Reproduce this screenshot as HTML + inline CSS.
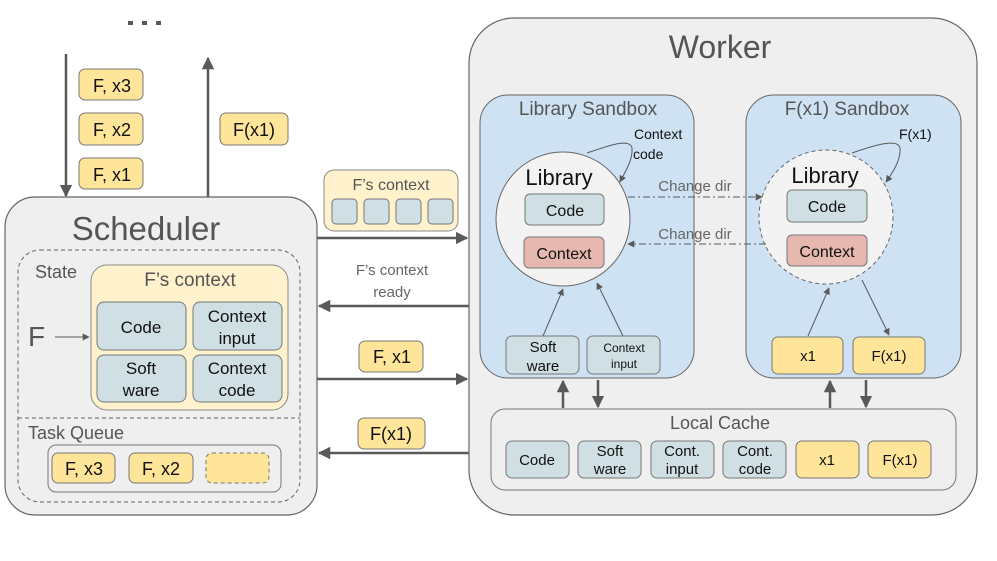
<!DOCTYPE html><html><head><style>body{margin:0;background:#fff}svg{display:block;font-family:"Liberation Sans",sans-serif}</style></head><body>
<svg width="997" height="561" viewBox="0 0 997 561" xmlns="http://www.w3.org/2000/svg">
<defs>
<marker id="a" viewBox="0 0 10 10" refX="9" refY="5" markerWidth="5" markerHeight="5" orient="auto-start-reverse"><path d="M0,0L10,5L0,10z" fill="#595959"/></marker>
<marker id="s" viewBox="0 0 10 10" refX="9" refY="5" markerWidth="7" markerHeight="7" orient="auto"><path d="M0,0L10,5L0,10z" fill="#595959"/></marker>
</defs>
<g fill="#595959"><rect x="128" y="21" width="5" height="4"/><rect x="142" y="21" width="5" height="4"/><rect x="156" y="21" width="5" height="4"/></g>
<g stroke="#595959" stroke-width="2.5" fill="none">
<line x1="66" y1="54" x2="66" y2="196" marker-end="url(#a)"/>
<line x1="208" y1="197" x2="208" y2="58" marker-end="url(#a)"/>
</g>
<g fill="#ffe599" stroke="#777" stroke-width="1">
<rect x="79" y="69" width="64" height="31" rx="6"/><rect x="79" y="113" width="64" height="32" rx="6"/><rect x="79" y="158" width="64" height="31" rx="6"/>
<rect x="220" y="113" width="68" height="32" rx="6"/>
</g>
<g font-size="18" fill="#111" text-anchor="middle">
<text x="112" y="92">F, x3</text><text x="112" y="136">F, x2</text><text x="112" y="181">F, x1</text><text x="254" y="136">F(x1)</text>
</g>
<rect x="5" y="197" width="312" height="318" rx="30" fill="#efefef" stroke="#666" stroke-width="1.2"/>
<text x="146" y="240" font-size="33" fill="#555" text-anchor="middle">Scheduler</text>
<rect x="18" y="250" width="282" height="252" rx="22" fill="none" stroke="#666" stroke-dasharray="4,3"/>
<line x1="18" y1="418" x2="300" y2="418" stroke="#666" stroke-dasharray="4,3"/>
<text x="35" y="278" font-size="18" fill="#555">State</text>
<rect x="91" y="265" width="197" height="145" rx="16" fill="#fff2cc" stroke="#888"/>
<text x="190" y="286" font-size="19" fill="#555" text-anchor="middle">F’s context</text>
<g fill="#d0dfe3" stroke="#777"><rect x="97" y="302" width="89" height="48" rx="7"/><rect x="193" y="302" width="89" height="48" rx="7"/><rect x="97" y="355" width="89" height="47" rx="7"/><rect x="193" y="355" width="89" height="47" rx="7"/></g>
<g font-size="17" fill="#111" text-anchor="middle"><text x="141" y="333">Code</text><text x="237" y="322">Context</text><text x="237" y="344">input</text><text x="141" y="374">Soft</text><text x="141" y="396">ware</text><text x="237" y="374">Context</text><text x="237" y="396">code</text></g>
<text x="28" y="346" font-size="28" fill="#555">F</text>
<line x1="55" y1="337" x2="89" y2="337" stroke="#595959" stroke-width="1" marker-end="url(#s)"/>
<text x="28" y="439" font-size="18" fill="#555">Task Queue</text>
<rect x="48" y="445" width="233" height="47" rx="8" fill="#efefef" stroke="#777"/>
<g fill="#ffe599" stroke="#777"><rect x="52" y="453" width="63" height="30" rx="6"/><rect x="129" y="453" width="64" height="30" rx="6"/><rect x="206" y="453" width="63" height="30" rx="6" stroke-dasharray="4,3"/></g>
<g font-size="18" fill="#111" text-anchor="middle"><text x="84" y="475">F, x3</text><text x="161" y="475">F, x2</text></g>
<rect x="324" y="170" width="134" height="61" rx="10" fill="#fff2cc" stroke="#888"/>
<text x="391" y="190" font-size="16" fill="#555" text-anchor="middle">F’s context</text>
<g fill="#d0dfe3" stroke="#777"><rect x="332" y="199" width="25" height="25" rx="4"/><rect x="364" y="199" width="25" height="25" rx="4"/><rect x="396" y="199" width="25" height="25" rx="4"/><rect x="428" y="199" width="25" height="25" rx="4"/></g>
<g stroke="#595959" stroke-width="2.5">
<line x1="317" y1="238" x2="467" y2="238" marker-end="url(#a)"/>
<line x1="469" y1="306" x2="319" y2="306" marker-end="url(#a)"/>
<line x1="317" y1="379" x2="467" y2="379" marker-end="url(#a)"/>
<line x1="469" y1="453" x2="319" y2="453" marker-end="url(#a)"/>
</g>
<text x="392" y="275" font-size="15" fill="#666" text-anchor="middle">F’s context</text>
<text x="392" y="297" font-size="15" fill="#666" text-anchor="middle">ready</text>
<g fill="#ffe599" stroke="#777"><rect x="359" y="341" width="64" height="31" rx="6"/><rect x="358" y="418" width="67" height="31" rx="6"/></g>
<g font-size="18" fill="#111" text-anchor="middle"><text x="392" y="363">F, x1</text><text x="391" y="440">F(x1)</text></g>
<rect x="469" y="18" width="508" height="497" rx="45" fill="#efefef" stroke="#666" stroke-width="1.2"/>
<text x="720" y="58" font-size="32" fill="#555" text-anchor="middle">Worker</text>
<rect x="480" y="95" width="214" height="283" rx="28" fill="#cfe2f3" stroke="#666"/>
<rect x="746" y="95" width="215" height="283" rx="28" fill="#cfe2f3" stroke="#666"/>
<text x="588" y="115" font-size="19" fill="#555" text-anchor="middle">Library Sandbox</text>
<text x="847" y="115" font-size="19" fill="#555" text-anchor="middle">F(x1) Sandbox</text>
<circle cx="563" cy="219" r="67" fill="#f3f3f3" stroke="#666"/>
<circle cx="826" cy="217" r="67" fill="#f3f3f3" stroke="#666" stroke-dasharray="4,3"/>
<g font-size="22" fill="#111" text-anchor="middle"><text x="559" y="185">Library</text><text x="825" y="183">Library</text></g>
<g fill="#d0dfe3" stroke="#777"><rect x="525" y="194" width="79" height="31" rx="5"/><rect x="787" y="190" width="80" height="32" rx="5"/></g>
<g fill="#e6b8af" stroke="#777"><rect x="524" y="237" width="80" height="31" rx="5"/><rect x="787" y="235" width="80" height="31" rx="5"/></g>
<g font-size="16" fill="#111" text-anchor="middle"><text x="565" y="216">Code</text><text x="827" y="212">Code</text><text x="564" y="259">Context</text><text x="827" y="257">Context</text></g>
<g font-size="14" fill="#111"><text x="634" y="139">Context</text><text x="633" y="159">code</text><text x="899" y="139">F(x1)</text></g>
<g stroke="#595959" stroke-width="1" fill="none">
<path d="M587,153 C610,145 630,138 632,148 C633,160 625,172 620,182" marker-end="url(#s)"/>
<path d="M852,153 C875,145 898,138 900,148 C901,160 893,172 886,182" marker-end="url(#s)"/>
<line x1="543" y1="336" x2="563" y2="289" marker-end="url(#s)"/>
<line x1="623" y1="336" x2="597" y2="283" marker-end="url(#s)"/>
<line x1="808" y1="336" x2="829" y2="288" marker-end="url(#s)"/>
<line x1="862" y1="280" x2="889" y2="335" marker-end="url(#s)"/>
<line x1="628" y1="197" x2="762" y2="197" stroke-dasharray="7,3,2,3" marker-end="url(#s)"/>
<line x1="766" y1="244" x2="628" y2="244" stroke-dasharray="7,3,2,3" marker-end="url(#s)"/>
</g>
<g font-size="15" fill="#666" text-anchor="middle"><text x="695" y="191">Change dir</text><text x="695" y="239">Change dir</text></g>
<g fill="#d0dfe3" stroke="#777"><rect x="506" y="336" width="73" height="38" rx="6"/><rect x="587" y="336" width="73" height="38" rx="6"/></g>
<g fill="#ffe599" stroke="#777"><rect x="772" y="337" width="71" height="37" rx="6"/><rect x="853" y="337" width="72" height="37" rx="6"/></g>
<g fill="#111" text-anchor="middle"><text x="543" y="352" font-size="15">Soft</text><text x="543" y="371" font-size="15">ware</text><text x="624" y="352" font-size="12">Context</text><text x="624" y="368" font-size="12">input</text><text x="808" y="361" font-size="15">x1</text><text x="889" y="361" font-size="15">F(x1)</text></g>
<rect x="491" y="409" width="465" height="81" rx="14" fill="#efefef" stroke="#777"/>
<text x="720" y="429" font-size="18" fill="#555" text-anchor="middle">Local Cache</text>
<g stroke="#595959" stroke-width="2.5">
<line x1="563" y1="408" x2="563" y2="381" marker-end="url(#a)"/>
<line x1="598" y1="380" x2="598" y2="407" marker-end="url(#a)"/>
<line x1="830" y1="408" x2="830" y2="381" marker-end="url(#a)"/>
<line x1="866" y1="380" x2="866" y2="407" marker-end="url(#a)"/>
</g>
<g fill="#d0dfe3" stroke="#777"><rect x="506" y="441" width="63" height="37" rx="6"/><rect x="578" y="441" width="63" height="37" rx="6"/><rect x="651" y="441" width="63" height="37" rx="6"/><rect x="723" y="441" width="63" height="37" rx="6"/></g>
<g fill="#ffe599" stroke="#777"><rect x="796" y="441" width="63" height="37" rx="6"/><rect x="868" y="441" width="63" height="37" rx="6"/></g>
<g font-size="15" fill="#111" text-anchor="middle"><text x="537" y="465">Code</text><text x="610" y="456">Soft</text><text x="610" y="474">ware</text><text x="682" y="456">Cont.</text><text x="682" y="474">input</text><text x="755" y="456">Cont.</text><text x="755" y="474">code</text><text x="827" y="465">x1</text><text x="900" y="465">F(x1)</text></g>
</svg>
</body></html>
